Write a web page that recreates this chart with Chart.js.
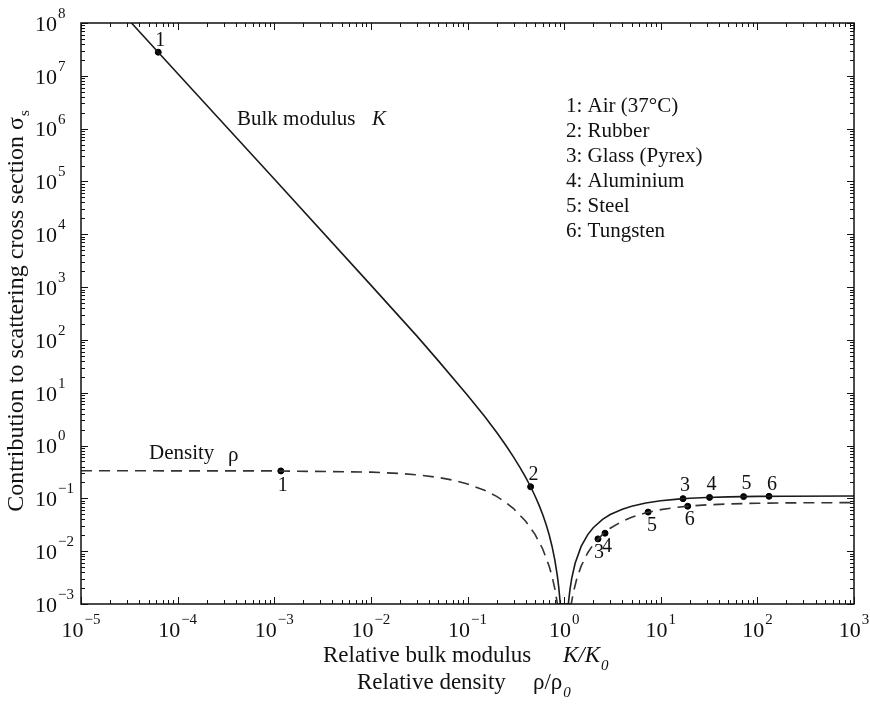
<!DOCTYPE html>
<html>
<head>
<meta charset="utf-8">
<script src="https://cdn.jsdelivr.net/npm/chart.js@4"></script>
<style>
  html, body { margin: 0; padding: 0; background: #fff; }
  #wrap { width: 870px; height: 710px; }
</style>
</head>
<body>
<div id="wrap"><canvas id="scatterChart" width="870" height="710"></canvas></div>
<script>
// bulk modulus curve (solid)
const bulkX = [3.33e-5, 1e-4, 1e-3, 1e-2, 3e-2, 0.05, 0.1, 0.15, 0.2, 0.25, 0.3, 0.35, 0.4, 0.45, 0.5, 0.55, 0.6, 0.65, 0.7, 0.75, 0.8, 0.85, 0.88, 0.913,
  1.105, 1.15, 1.2, 1.3, 1.5, 1.75, 2, 2.5, 3, 4, 5, 7, 10, 15, 20, 30, 50, 100, 200, 1000];
const bulkY = [1e8, 1.11e7, 1.11e5, 1089, 118, 40.1, 9, 3.57, 1.78, 1.0, 0.605, 0.383, 0.25, 0.166, 0.111, 0.0744, 0.0494, 0.0322, 0.0204, 0.0123, 0.00694, 0.00346, 0.00207, 0.001,
  0.001, 0.00189, 0.00309, 0.00592, 0.0123, 0.0204, 0.0278, 0.04, 0.0494, 0.0625, 0.0711, 0.0816, 0.09, 0.0968, 0.1003, 0.1038, 0.1067, 0.1089, 0.11, 0.1109];

// density curve (dashed)
const densX = [1e-5, 1e-3, 1e-2, 0.02, 0.03, 0.05, 0.07, 0.1, 0.15, 0.2, 0.25, 0.3, 0.4, 0.5, 0.6, 0.7, 0.75, 0.8, 0.852,
  1.185, 1.25, 1.35, 1.5, 1.75, 2, 2.5, 3, 4, 5, 7, 10, 15, 20, 30, 50, 100, 200, 1000];
const densY = [0.333, 0.331, 0.314, 0.296, 0.279, 0.249, 0.222, 0.1875, 0.1425, 0.109, 0.0833, 0.0638, 0.037, 0.0208, 0.011, 0.0052, 0.00333, 0.00197, 0.001,
  0.001, 0.0017, 0.00298, 0.0052, 0.00926, 0.0133, 0.0208, 0.0272, 0.037, 0.0441, 0.0533, 0.0612, 0.068, 0.0716, 0.0753, 0.0785, 0.0809, 0.0821, 0.0831];

// materials marked on the curves
const bulkPtX = [6.3e-5, 0.45, 17, 32, 72, 132];
const bulkPtY = [2.8e7, 0.166, 0.0988, 0.1043, 0.108, 0.1094];
const bulkPtLabels = ["1", "2", "3", "4", "5", "6"];
const densPtX = [1.17e-3, 2.24, 2.65, 7.4, 19];
const densPtY = [0.331, 0.0171, 0.0219, 0.055, 0.071];
const densPtLabels = ["1", "3", "4", "5", "6"];

const materials = ["1: Air (37°C)", "2: Rubber", "3: Glass (Pyrex)", "4: Aluminium", "5: Steel", "6: Tungsten"];

const xExponents = [-5, -4, -3, -2, -1, 0, 1, 2, 3];
const yExponents = [-3, -2, -1, 0, 1, 2, 3, 4, 5, 6, 7, 8];

const SERIF = '"Liberation Serif", "DejaVu Serif", serif';
const INK = "#111";

function pairs(xs, ys) {
  return xs.map((x, i) => ({ x, y: ys[i] }));
}

// label offsets from their marker, in pixels
const bulkLabelOffset = [[2, -11], [3, -12], [2, -13], [2, -13], [3, -13], [3, -12]];
const densLabelOffset = [[2, 15], [1, 14], [2, 14], [4, 14], [2, 14]];

function expText(n) {
  return n < 0 ? "\u2212" + Math.abs(n) : String(n);
}

const axesPlugin = {
  id: "axesPlugin",
  afterDraw(chart) {
    const ctx = chart.ctx;
    const area = chart.chartArea;
    const xs = chart.scales.x;
    const ys = chart.scales.y;
    ctx.save();
    ctx.strokeStyle = INK;
    ctx.fillStyle = INK;

    // frame
    ctx.lineWidth = 1.5;
    ctx.strokeRect(area.left, area.top, area.right - area.left, area.bottom - area.top);

    // inward ticks on all sides
    ctx.lineWidth = 1;
    ctx.beginPath();
    xExponents.forEach(e => {
      for (let m = 1; m <= 9; m++) {
        const v = m * Math.pow(10, e);
        if (v > 1e3 * 1.0001) continue;
        const px = Math.round(xs.getPixelForValue(v)) + 0.5;
        const len = m === 1 ? 7 : 4;
        ctx.moveTo(px, area.bottom); ctx.lineTo(px, area.bottom - len);
        ctx.moveTo(px, area.top); ctx.lineTo(px, area.top + len);
      }
    });
    yExponents.forEach(e => {
      for (let m = 1; m <= 9; m++) {
        const v = m * Math.pow(10, e);
        if (v > 1e8 * 1.0001) continue;
        const py = Math.round(ys.getPixelForValue(v)) + 0.5;
        const len = m === 1 ? 7 : 4;
        ctx.moveTo(area.left, py); ctx.lineTo(area.left + len, py);
        ctx.moveTo(area.right, py); ctx.lineTo(area.right - len, py);
      }
    });
    ctx.stroke();

    // tick labels
    ctx.textBaseline = "middle";
    ctx.textAlign = "left";
    xExponents.forEach(e => {
      const px = xs.getPixelForValue(Math.pow(10, e));
      ctx.font = "22px " + SERIF;
      const w1 = ctx.measureText("10").width;
      ctx.font = "15px " + SERIF;
      const w2 = ctx.measureText(expText(e)).width;
      const x0 = px - (w1 + w2 + 1) / 2;
      ctx.font = "22px " + SERIF;
      ctx.fillText("10", x0, 631);
      ctx.font = "15px " + SERIF;
      ctx.fillText(expText(e), x0 + w1 + 1, 620);
    });
    yExponents.forEach(e => {
      const py = ys.getPixelForValue(Math.pow(10, e));
      ctx.font = "22px " + SERIF;
      const w1 = ctx.measureText("10").width;
      ctx.fillText("10", 35, py + 2);
      ctx.font = "15px " + SERIF;
      ctx.fillText(expText(e), 35 + w1 + 1, py - 9);
    });

    // x axis titles
    ctx.font = "23px " + SERIF;
    ctx.fillText("Relative bulk modulus", 323, 656);
    ctx.font = "italic 23px " + SERIF;
    ctx.fillText("K/K", 563, 656);
    let wk = ctx.measureText("K/K").width;
    ctx.font = "italic 15px " + SERIF;
    ctx.fillText("0", 563 + wk + 1, 666);
    ctx.font = "23px " + SERIF;
    ctx.fillText("Relative density", 357, 683);
    const wr = ctx.measureText("\u03c1/\u03c1").width;
    ctx.fillText("\u03c1/\u03c1", 533, 683);
    ctx.font = "italic 15px " + SERIF;
    ctx.fillText("0", 533 + wr + 1, 693);

    // y axis title, rotated
    ctx.save();
    ctx.translate(17, 311);
    ctx.rotate(-Math.PI / 2);
    const yTitle = "Contribution to scattering cross section \u03c3";
    ctx.font = "24px " + SERIF;
    const wt = ctx.measureText(yTitle).width;
    ctx.font = "15px " + SERIF;
    const ws = ctx.measureText("s").width;
    const start = -(wt + ws + 1) / 2;
    ctx.font = "24px " + SERIF;
    ctx.fillText(yTitle, start, 0);
    ctx.font = "15px " + SERIF;
    ctx.fillText("s", start + wt + 1, 8);
    ctx.restore();

    // curve names
    ctx.font = "21px " + SERIF;
    ctx.fillText("Bulk modulus", 237, 119);
    ctx.fillText("Density", 149, 453);
    ctx.fillText("\u03c1", 228, 455);
    ctx.font = "italic 21px " + SERIF;
    ctx.fillText("K", 372, 119);

    // material list
    ctx.font = "21px " + SERIF;
    materials.forEach((m, i) => ctx.fillText(m, 566, 106 + i * 25));

    // point numbers
    ctx.font = "20px " + SERIF;
    ctx.textAlign = "center";
    bulkPtX.forEach((v, i) => {
      const px = xs.getPixelForValue(v) + bulkLabelOffset[i][0];
      const py = ys.getPixelForValue(bulkPtY[i]) + bulkLabelOffset[i][1];
      ctx.fillText(bulkPtLabels[i], px, py);
    });
    densPtX.forEach((v, i) => {
      const px = xs.getPixelForValue(v) + densLabelOffset[i][0];
      const py = ys.getPixelForValue(densPtY[i]) + densLabelOffset[i][1];
      ctx.fillText(densPtLabels[i], px, py);
    });

    ctx.restore();
  }
};

const chart = new Chart(document.getElementById("scatterChart"), {
  type: "scatter",
  data: {
    datasets: [
      {
        label: "Bulk modulus K",
        data: pairs(bulkX, bulkY),
        showLine: true,
        borderColor: "#1a1a1a",
        borderWidth: 1.6,
        pointRadius: 0,
        tension: 0
      },
      {
        label: "Density rho",
        data: pairs(densX, densY),
        showLine: true,
        borderColor: "#333",
        borderWidth: 1.6,
        borderDash: [11, 7],
        pointRadius: 0,
        tension: 0
      },
      {
        label: "Bulk points",
        data: pairs(bulkPtX, bulkPtY),
        pointRadius: 3,
        backgroundColor: "#000",
        borderColor: "#000"
      },
      {
        label: "Density points",
        data: pairs(densPtX, densPtY),
        pointRadius: 3,
        backgroundColor: "#000",
        borderColor: "#000"
      }
    ]
  },
  options: {
    responsive: false,
    animation: false,
    devicePixelRatio: 1,
    layout: { padding: { top: 23, right: 16, left: 0, bottom: 0 } },
    plugins: {
      legend: { display: false },
      tooltip: { enabled: false }
    },
    scales: {
      x: {
        type: "logarithmic",
        min: 1e-5,
        max: 1e3,
        ticks: { display: false },
        grid: { display: false },
        border: { display: false },
        afterFit(scale) { scale.height = 106; }
      },
      y: {
        type: "logarithmic",
        min: 1e-3,
        max: 1e8,
        ticks: { display: false },
        grid: { display: false },
        border: { display: false },
        afterFit(scale) { scale.width = 81; }
      }
    }
  },
  plugins: [axesPlugin]
});
</script>
</body>
</html>
